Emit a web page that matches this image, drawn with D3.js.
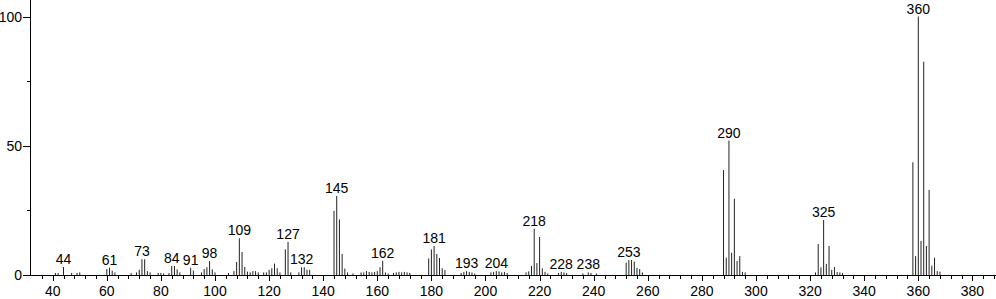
<!DOCTYPE html>
<html>
<head>
<meta charset="utf-8">
<script src="https://cdn.jsdelivr.net/npm/d3@7"></script>
<style>
  body { margin: 0; background: #fff; }
  svg text { font-family: "Liberation Sans", Arial, sans-serif; font-size: 14px; fill: #000; }
</style>
</head>
<body>
<svg id="chart" width="996" height="299"></svg>
<script>
// m/z of every peak
var mzValues = [
  41, 42, 44, 47, 49, 50,
  60, 61, 62, 63,
  69, 71, 72, 73, 74, 75, 76,
  79, 80, 81, 83, 84, 85, 86, 87,
  91, 92, 95, 96, 97, 98, 99, 100,
  105, 107, 108, 109, 110, 111, 112, 113, 114, 115, 116,
  118, 119, 120, 121, 122, 123, 124, 126, 127, 128,
  131, 132, 133, 134, 135,
  144, 145, 146, 147, 148, 149,
  151, 154, 155, 156, 157, 158, 159, 160, 161, 162, 163, 164,
  166, 167, 168, 169, 170, 171, 172,
  179, 180, 181, 182, 183, 184, 185,
  191, 192, 193, 194, 195, 196,
  202, 203, 204, 205, 206, 207, 208,
  215, 216, 217, 218, 219, 220, 221, 222, 223,
  227, 228, 229, 230, 236, 238, 239, 241,
  252, 253, 254, 255, 256, 257, 258,
  288, 289, 290, 291, 292, 293, 294, 295, 296,
  322, 323, 324, 325, 326, 327, 328, 329, 330, 331, 332,
  358, 359, 360, 361, 362, 363, 364, 365, 366, 367, 368
];

// relative intensity (%) for each m/z above
var intensities = [
  0.8, 0.8, 3.1, 0.8, 0.8, 1.0,
  2.3, 2.8, 1.7, 1.0,
  0.7, 1.0, 2.0, 6.1, 6.1, 1.5, 1.0,
  0.8, 0.8, 0.6, 0.8, 3.5, 3.5, 2.2, 1.0,
  2.8, 1.7, 1.0, 2.3, 3.0, 5.4, 2.2, 1.0,
  0.8, 1.5, 5.0, 14.2, 8.9, 3.1, 1.3, 1.0, 1.5, 1.5, 1.0,
  1.0, 1.0, 2.0, 2.6, 4.4, 2.6, 1.0, 9.9, 12.8, 1.0,
  1.0, 3.0, 3.0, 2.0, 2.0,
  24.8, 30.6, 21.5, 8.1, 2.5, 1.0,
  0.6, 1.0, 1.0, 1.5, 1.2, 1.0, 1.2, 1.5, 3.0, 5.5, 1.0, 0.6,
  0.8, 1.0, 1.2, 1.0, 1.2, 1.0, 0.8,
  6.4, 9.9, 11.2, 8.1, 6.6, 2.6, 1.9,
  0.8, 1.2, 1.5, 1.2, 1.0, 0.6,
  1.0, 1.2, 1.5, 1.4, 1.0, 1.2, 0.8,
  1.0, 1.4, 3.5, 17.9, 4.6, 14.7, 2.6, 1.2, 0.6,
  0.8, 1.2, 1.0, 0.8, 0.6, 1.0, 0.8, 0.6,
  4.8, 5.8, 5.8, 5.2, 2.8, 2.3, 1.0,
  40.6, 6.7, 52.0, 8.6, 29.5, 5.4, 7.3, 1.2, 1.0,
  1.0, 12.0, 3.0, 21.3, 4.3, 11.2, 2.0, 3.1, 1.2, 1.0, 0.8,
  43.6, 7.3, 100, 13.2, 82.5, 11.2, 32.9, 3.6, 6.7, 1.5, 1.3
];

// peaks that carry an m/z label
var labelledPeaks = [44, 61, 73, 84, 91, 98, 109, 127, 132, 145, 162, 181, 193, 204, 218, 228, 238, 253, 290, 325, 360];

var xTicks = d3.range(40, 381, 20);
var xMinorTicks = d3.range(32, 389, 4);
var yTicks = [0, 50, 100];
var yMinorTicks = [25, 75];

var peaks = mzValues.map(function(m, i) { return { mz: m, y: intensities[i] }; });

var svg = d3.select("#chart");

var x = d3.scaleLinear().domain([40, 380]).range([52.7, 972.4]);
var y = d3.scaleLinear().domain([0, 100]).range([275, 16.5]);

var axisX0 = 30, axisY0 = 275;

// axes lines
svg.append("line")
    .attr("x1", axisX0).attr("x2", 996)
    .attr("y1", axisY0 + 0.5).attr("y2", axisY0 + 0.5)
    .attr("stroke", "#000").attr("stroke-width", 1);
svg.append("line")
    .attr("x1", axisX0 + 0.5).attr("x2", axisX0 + 0.5)
    .attr("y1", 0).attr("y2", axisY0 + 1)
    .attr("stroke", "#000").attr("stroke-width", 1);

// x ticks
svg.selectAll("line.xminor")
    .data(xMinorTicks.filter(function(t) { return t % 20 != 0 && x(t) > axisX0 + 2 && x(t) < 996; }))
    .enter().append("line")
    .attr("class", "xminor")
    .attr("x1", function(d) { return Math.round(x(d)) + 0.5; })
    .attr("x2", function(d) { return Math.round(x(d)) + 0.5; })
    .attr("y1", axisY0).attr("y2", axisY0 + 4)
    .attr("stroke", "#000");
svg.selectAll("line.xmajor")
    .data(xTicks)
    .enter().append("line")
    .attr("class", "xmajor")
    .attr("x1", function(d) { return Math.round(x(d)) + 0.5; })
    .attr("x2", function(d) { return Math.round(x(d)) + 0.5; })
    .attr("y1", axisY0).attr("y2", axisY0 + 6)
    .attr("stroke", "#000");
svg.selectAll("text.xlabel")
    .data(xTicks)
    .enter().append("text")
    .attr("class", "xlabel")
    .attr("x", function(d) { return x(d); })
    .attr("y", 296)
    .attr("text-anchor", "middle")
    .text(function(d) { return d; });

// y ticks
svg.selectAll("line.ymajor")
    .data(yTicks)
    .enter().append("line")
    .attr("class", "ymajor")
    .attr("x1", axisX0 - 7).attr("x2", axisX0)
    .attr("y1", function(d) { return Math.round(y(d)) + 0.5; })
    .attr("y2", function(d) { return Math.round(y(d)) + 0.5; })
    .attr("stroke", "#000");
svg.selectAll("line.yminor")
    .data(yMinorTicks)
    .enter().append("line")
    .attr("class", "yminor")
    .attr("x1", axisX0 - 3).attr("x2", axisX0)
    .attr("y1", function(d) { return Math.round(y(d)) + 0.5; })
    .attr("y2", function(d) { return Math.round(y(d)) + 0.5; })
    .attr("stroke", "#000");
svg.selectAll("text.ylabel")
    .data(yTicks)
    .enter().append("text")
    .attr("class", "ylabel")
    .attr("x", 22)
    .attr("y", function(d) { return y(d) + 5; })
    .attr("text-anchor", "end")
    .text(function(d) { return d; });

// peaks
svg.selectAll("line.peak")
    .data(peaks)
    .enter().append("line")
    .attr("class", "peak")
    .attr("x1", function(d) { return x(d.mz); })
    .attr("x2", function(d) { return x(d.mz); })
    .attr("y1", axisY0)
    .attr("y2", function(d) { return y(d.y); })
    .attr("stroke", "#222")
    .attr("stroke-width", 1);

// peak labels
svg.selectAll("text.peaklabel")
    .data(peaks.filter(function(d) { return labelledPeaks.indexOf(d.mz) >= 0; }))
    .enter().append("text")
    .attr("class", "peaklabel")
    .attr("x", function(d) { return x(d.mz); })
    .attr("y", function(d) { return y(d.y) - 3; })
    .attr("text-anchor", "middle")
    .text(function(d) { return d.mz; });
</script>
</body>
</html>
